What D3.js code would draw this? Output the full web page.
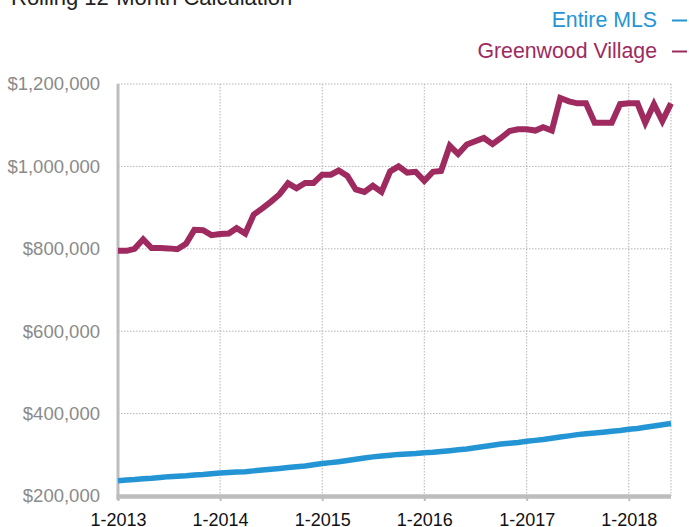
<!DOCTYPE html>
<html>
<head>
<meta charset="utf-8">
<script src="https://cdn.jsdelivr.net/npm/d3@7"></script>
<style>
  html, body { margin: 0; padding: 0; background: #fff; }
  svg { display: block; font-family: "Liberation Sans", Arial, Helvetica, sans-serif; }
</style>
</head>
<body>
<svg id="chart" width="689" height="527"></svg>
<script>
// ---- Data ----
const title = "Rolling 12-Month Calculation";
const seriesNames = ["Entire MLS", "Greenwood Village"];
const seriesColors = ["#2495d4", "#9e2a5f"];
const startMonth = "2013-01";
const monthCount = 66; // Jan 2013 .. Jun 2018

// Entire MLS median sales price, rolling 12 months ($)
const entireMLS = [
  237000, 239000, 240000, 242000, 243000, 245000, 247000, 248000, 249000, 251000, 252000, 254000,
  256000, 257000, 258000, 259000, 261000, 263000, 265000, 267000, 269000, 271000, 273000, 276000,
  279000, 281000, 283000, 286000, 289000, 292000, 295000, 297000, 299000, 301000, 302000, 303000,
  305000, 306000, 308000, 310000, 312000, 314000, 317000, 320000, 323000, 326000, 328000, 330000,
  333000, 335000, 337000, 340000, 343000, 346000, 349000, 351000, 353000, 355000, 357000, 359000,
  362000, 364000, 367000, 370000, 373000, 376000
];

// Greenwood Village median sales price, rolling 12 months ($)
const greenwoodVillage = [
  795000, 795000, 800000, 823000, 802000, 802000, 801000, 799000, 812000, 846000, 845000, 833000,
  836000, 837000, 850000, 837000, 883000, 898000, 914000, 932000, 959000, 947000, 960000, 960000,
  980000, 980000, 990000, 977000, 944000, 938000, 953000, 938000, 988000, 1000000, 985000, 987000,
  965000, 987000, 989000, 1050000, 1030000, 1053000, 1061000, 1069000, 1054000, 1069000, 1086000, 1090000,
  1090000, 1087000, 1095000, 1087000, 1166000, 1158000, 1153000, 1153000, 1106000, 1106000, 1106000, 1151000,
  1153000, 1153000, 1106000, 1151000, 1110000, 1153000
];

const yTicks = [200000, 400000, 600000, 800000, 1000000, 1200000];
const xTickLabels = ["1-2013", "1-2014", "1-2015", "1-2016", "1-2017", "1-2018"];

// ---- Chart ----
const svg = d3.select("#chart");
const mLeft = 118, mRight = 671, mTop = 84, mBottom = 496;

const parse = d3.timeParse("%Y-%m");
const t0 = parse(startMonth);
const dates = d3.range(monthCount).map(i => d3.timeMonth.offset(t0, i));
const x = d3.scaleTime().domain([dates[0], dates[dates.length - 1]]).range([mLeft, mRight]);
const y = d3.scaleLinear().domain([200000, 1200000]).range([mBottom, mTop]);

const tickDates = xTickLabels.map(s => { const [m, yr] = s.split("-"); return new Date(+yr, +m - 1, 1); });

// Title (partially cut off at top)
svg.append("text").attr("x", 11).attr("y", 5)
  .attr("font-size", 22).attr("fill", "#222").text(title);

// Gridlines
const grid = svg.append("g");
grid.selectAll("line.h").data(yTicks.filter(v => v > 200000)).join("line")
  .attr("x1", mLeft).attr("x2", mRight)
  .attr("y1", d => y(d)).attr("y2", d => y(d))
  .attr("stroke", "#b5b5b5").attr("stroke-width", 1).attr("stroke-dasharray", "1.5,1.5");
grid.selectAll("line.v").data(tickDates.slice(1).concat([dates[dates.length - 1]])).join("line")
  .attr("x1", d => x(d)).attr("x2", d => x(d))
  .attr("y1", mTop).attr("y2", mBottom)
  .attr("stroke", "#b5b5b5").attr("stroke-width", 1).attr("stroke-dasharray", "1.5,1.5");

// Y axis
const yAxis = svg.append("g").attr("transform", `translate(${mLeft},0)`)
  .call(d3.axisLeft(y).tickValues(yTicks).tickSize(0).tickPadding(18)
    .tickFormat(d => "$" + d3.format(",")(d)));
yAxis.select(".domain").remove();
yAxis.selectAll("text").attr("font-size", 18.5).attr("fill", "#8a8a8a")
  .attr("font-family", "Liberation Sans, Arial, sans-serif");
svg.append("line").attr("x1", mLeft).attr("x2", mLeft).attr("y1", mTop).attr("y2", mBottom + 4)
  .attr("stroke", "#bdbdbd").attr("stroke-width", 3);

// X axis
const xAxis = svg.append("g").attr("transform", `translate(0,${mBottom})`)
  .call(d3.axisBottom(x).tickValues(tickDates).tickSize(5).tickPadding(12)
    .tickFormat((d, i) => xTickLabels[i]));
xAxis.select(".domain").remove();
xAxis.selectAll(".tick line").attr("stroke", "#bdbdbd").attr("stroke-width", 2);
xAxis.selectAll("text").attr("font-size", 18).attr("fill", "#111")
  .attr("font-family", "Liberation Sans, Arial, sans-serif");
svg.append("line").attr("x1", mLeft - 1.5).attr("x2", mRight).attr("y1", mBottom + 0.5).attr("y2", mBottom + 0.5)
  .attr("stroke", "#bdbdbd").attr("stroke-width", 4.5);

// Lines
const line = d3.line().x((d, i) => x(dates[i])).y(d => y(d));
[entireMLS, greenwoodVillage].forEach((vals, k) => {
  svg.append("path").datum(vals)
    .attr("d", line)
    .attr("fill", "none")
    .attr("stroke", seriesColors[k])
    .attr("stroke-width", k === 0 ? 5.5 : 6)
    .attr("stroke-linejoin", "miter");
});

// Legend
const legend = svg.append("g");
const legendY = [27, 58];
seriesNames.forEach((name, k) => {
  legend.append("text").attr("x", 657).attr("y", legendY[k])
    .attr("text-anchor", "end").attr("font-size", 21.3).attr("fill", seriesColors[k]).text(name);
  legend.append("line").attr("x1", 672).attr("x2", 687)
    .attr("y1", legendY[k] - 6.5).attr("y2", legendY[k] - 6.5)
    .attr("stroke", seriesColors[k]).attr("stroke-width", 2);
});
</script>
</body>
</html>
